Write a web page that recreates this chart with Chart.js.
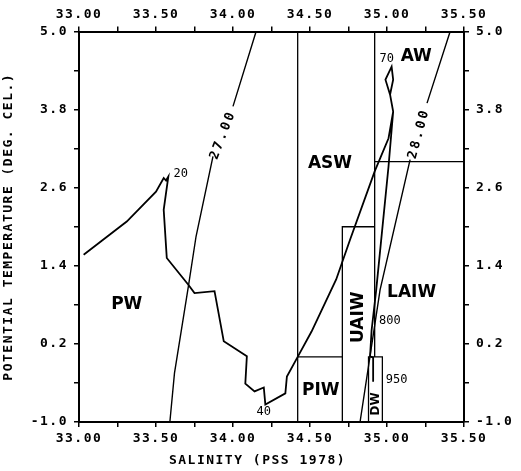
<!DOCTYPE html>
<html>
<head>
<meta charset="utf-8">
<script src="https://cdn.jsdelivr.net/npm/chart.js@4/dist/chart.umd.min.js"></script>
<style>
  html, body { margin: 0; padding: 0; background: #fff; }
  #wrap { width: 521px; height: 471px; }
</style>
</head>
<body>
<div id="wrap"><canvas id="tsChart" width="521" height="471"></canvas></div>
<script>
// salinity / potential temperature profile (depth labels 20, 40, 70, 800, 950)
const profileS = [33.03, 33.31, 33.50, 33.55, 33.565, 33.58, 33.55, 33.57, 33.71, 33.75,
  33.88, 33.94, 34.09, 34.08, 34.14, 34.20, 34.21, 34.34, 34.35, 34.42,
  34.51, 34.67, 34.76, 34.92, 35.01, 35.04, 35.02, 34.99, 35.03, 35.04,
  35.02, 35.04, 35.03, 35.01, 34.93, 34.90, 34.89, 34.91, 34.91];
const profileT = [1.57, 2.08, 2.54, 2.75, 2.71, 2.77, 2.26, 1.52, 1.11, 0.98,
  1.01, 0.24, 0.01, -0.41, -0.53, -0.47, -0.73, -0.56, -0.30, 0.00,
  0.39, 1.19, 1.80, 2.85, 3.36, 3.77, 4.03, 4.26, 4.46, 4.26,
  4.03, 3.77, 3.49, 2.93, 1.03, 0.41, 0.01, -0.01, -0.38];

// sigma-theta contours (null = gap for the label)
const sigma27S = [33.59, 33.62, 33.71, 33.76, 33.87, null, 34.00, 34.15];
const sigma27T = [-1.0, -0.25, 1.08, 1.85, 3.08, null, 3.85, 5.0];
const sigma28S = [34.825, 34.955, 35.15, null, 35.26, 35.41];
const sigma28T = [-1.0, 1.03, 3.03, null, 3.90, 5.0];

// water mass boundaries
const pwAswS = [34.42, 34.42];   const pwAswT = [-1.0, 5.0];
const aswAwS = [34.92, 34.92];   const aswAwT = [5.0, 0.0];
const awLaiwS = [34.92, 35.5];   const awLaiwT = [3.0, 3.0];
const piwTopS = [34.42, 34.71];  const piwTopT = [0.0, 0.0];
const uaiwS = [34.71, 34.71, 34.92]; const uaiwT = [-1.0, 2.0, 2.0];
const dwS = [34.88, 34.88, 34.97, 34.97]; const dwT = [-1.0, 0.0, 0.0, -1.0];

// axis ticks
const salTicks = [33, 33.25, 33.5, 33.75, 34, 34.25, 34.5, 34.75, 35, 35.25, 35.5];
const salLabels = ['33.00', '', '33.50', '', '34.00', '', '34.50', '', '35.00', '', '35.50'];
const tempTicks = [-1.0, -0.4, 0.2, 0.8, 1.4, 2.0, 2.6, 3.2, 3.8, 4.4, 5.0];
const tempLabels = ['-1.0', '', '0.2', '', '1.4', '', '2.6', '', '3.8', '', '5.0'];

const pts = (xs, ys) => xs.map((x, i) => (x === null ? { x: NaN, y: NaN } : { x: x, y: ys[i] }));

const lineSet = (xs, ys, w) => ({
  data: pts(xs, ys),
  showLine: true,
  borderColor: '#000',
  borderWidth: w,
  pointRadius: 0,
  spanGaps: false,
  tension: 0,
  xAxisID: 'x',
  yAxisID: 'y'
});

// text drawn on the chart area
const textLabels = [
  { text: 'AW', s: 35.19, t: 4.61, font: 'bold 17px "DejaVu Sans"', rot: 0 },
  { text: 'ASW', s: 34.63, t: 2.97, font: 'bold 17px "DejaVu Sans"', rot: 0 },
  { text: 'PW', s: 33.31, t: 0.80, font: 'bold 17px "DejaVu Sans"', rot: 0 },
  { text: 'PIW', s: 34.57, t: -0.51, font: 'bold 17px "DejaVu Sans"', rot: 0 },
  { text: 'LAIW', s: 35.16, t: 0.99, font: 'bold 17px "DejaVu Sans"', rot: 0 },
  { text: 'UAIW', s: 34.815, t: 0.61, font: 'bold 17px "DejaVu Sans"', rot: -90 },
  { text: 'DW', s: 34.929, t: -0.72, font: 'bold 12px "DejaVu Sans"', rot: -90 },
  { text: '27.00', s: 33.935, t: 3.41, font: 'bold 13px "DejaVu Sans Mono"', rot: -69, sp: 2.5 },
  { text: '28.00', s: 35.208, t: 3.43, font: 'bold 13px "DejaVu Sans Mono"', rot: -75, sp: 2.5 },
  { text: '20', s: 33.661, t: 2.81, font: '12px "DejaVu Sans Mono"', rot: 0 },
  { text: '40', s: 34.199, t: -0.85, font: '12px "DejaVu Sans Mono"', rot: 0 },
  { text: '70', s: 34.998, t: 4.575, font: '12px "DejaVu Sans Mono"', rot: 0 },
  { text: '800', s: 35.019, t: 0.56, font: '12px "DejaVu Sans Mono"', rot: 0 },
  { text: '950', s: 35.063, t: -0.355, font: '12px "DejaVu Sans Mono"', rot: 0 }
];

const labelPlugin = {
  id: 'labels',
  beforeDraw(chart) {
    chart.ctx.letterSpacing = '1.5px';
  },
  afterDatasetsDraw(chart) {
    const ctx = chart.ctx;
    const xs = chart.scales.x, ys = chart.scales.y;
    ctx.save();
    ctx.fillStyle = '#000';
    ctx.textAlign = 'center';
    ctx.textBaseline = 'middle';
    textLabels.forEach(l => {
      ctx.save();
      ctx.letterSpacing = (l.sp || 0) + 'px';
      ctx.font = l.font;
      ctx.translate(xs.getPixelForValue(l.s), ys.getPixelForValue(l.t));
      ctx.rotate(l.rot * Math.PI / 180);
      ctx.fillText(l.text, 0, 0);
      ctx.restore();
    });
    ctx.restore();
  },
  afterDraw(chart) {
    chart.ctx.letterSpacing = '0px';
  }
};

const tickFont = { family: '"DejaVu Sans Mono"', size: 13, weight: 'bold' };

function axis(pos, isX, size, pad, title) {
  return {
    type: 'linear',
    position: pos,
    min: isX ? 33 : -1,
    max: isX ? 35.5 : 5,
    afterBuildTicks: s => { s.ticks = (isX ? salTicks : tempTicks).map(v => ({ value: v })); },
    afterFit: s => { if (isX) s.height = size; else s.width = size; },
    ticks: {
      autoSkip: false,
      maxRotation: 0,
      minRotation: 0,
      color: '#000',
      font: tickFont,
      padding: pad,
      callback: (v, i) => (isX ? salLabels : tempLabels)[i]
    },
    grid: { drawOnChartArea: false, drawTicks: true, tickLength: 5, color: '#000', lineWidth: 1.5 },
    border: { display: true, color: '#000', width: 2 },
    title: title
  };
}

new Chart(document.getElementById('tsChart'), {
  type: 'scatter',
  data: {
    datasets: [
      lineSet(profileS, profileT, 1.8),
      lineSet(sigma27S, sigma27T, 1.4),
      lineSet(sigma28S, sigma28T, 1.4),
      lineSet(pwAswS, pwAswT, 1.3),
      lineSet(aswAwS, aswAwT, 1.3),
      lineSet(awLaiwS, awLaiwT, 1.3),
      lineSet(piwTopS, piwTopT, 1.3),
      lineSet(uaiwS, uaiwT, 1.3),
      lineSet(dwS, dwT, 1.3)
    ]
  },
  options: {
    responsive: false,
    animation: false,
    devicePixelRatio: 1,
    layout: { padding: 0 },
    plugins: { legend: { display: false }, tooltip: { enabled: false } },
    scales: {
      x: axis('bottom', true, 49, 4, {
        display: true, text: 'SALINITY (PSS 1978)   ', color: '#000',
        font: { family: '"DejaVu Sans Mono"', size: 13, weight: 'bold' },
        padding: { top: 0, bottom: 3 }
      }),
      x2: axis('top', true, 31.5, 4, { display: false }),
      y: axis('left', false, 79, 6, {
        display: true, text: 'POTENTIAL TEMPERATURE (DEG. CEL.)', color: '#000',
        font: { family: '"DejaVu Sans Mono"', size: 13, weight: 'bold' },
        padding: { top: 1, bottom: 0 }
      }),
      y2: axis('right', false, 57, 7, { display: false })
    }
  },
  plugins: [labelPlugin]
});
</script>
</body>
</html>
